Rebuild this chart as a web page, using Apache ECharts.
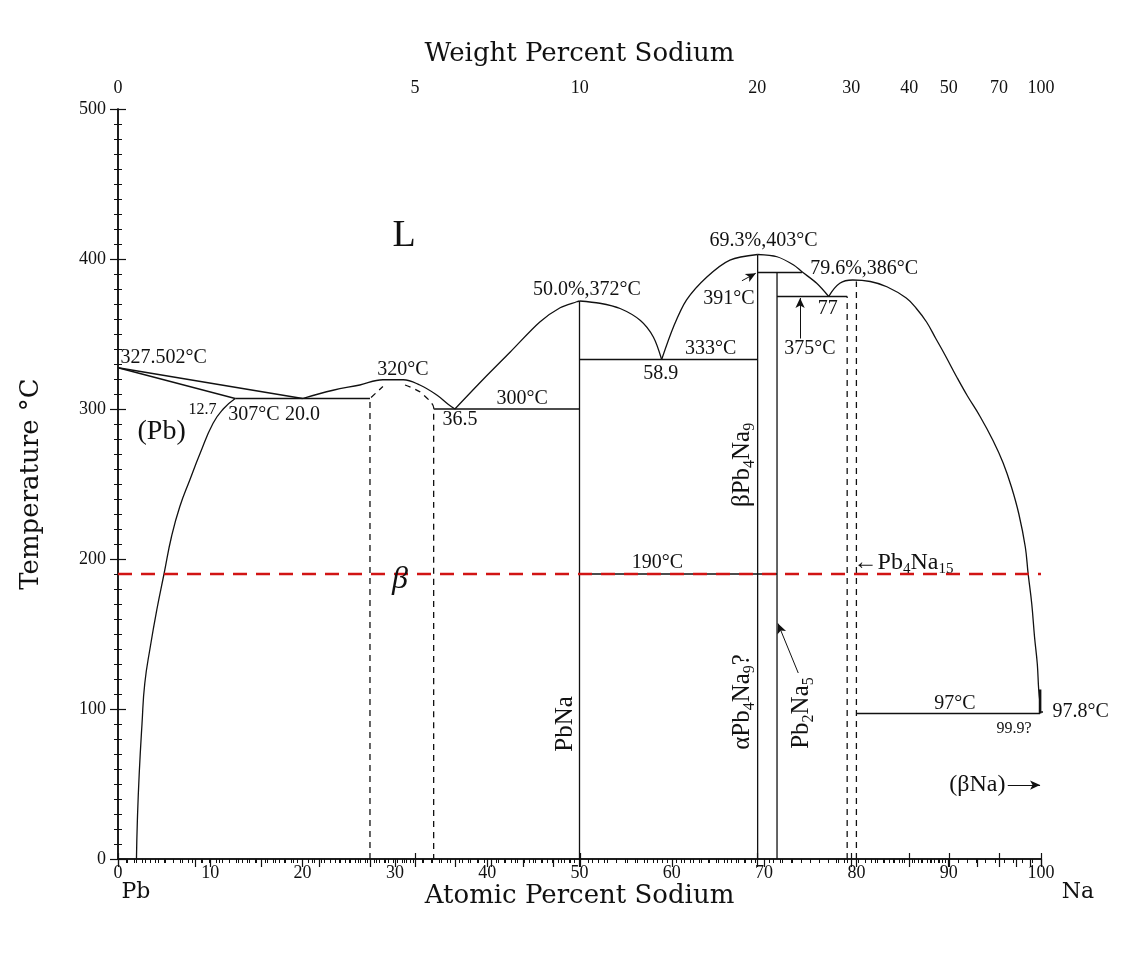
<!DOCTYPE html>
<html><head><meta charset="utf-8">
<script src="https://cdn.jsdelivr.net/npm/echarts@6/dist/echarts.min.js"></script>
<style>html,body{margin:0;padding:0;background:#fff}#c{width:1140px;height:975px}</style>
</head><body><div id="c"></div>
<script>
// ---------- axis ticks / labels ----------
const atomicRange = [0, 100];
const tempRange = [0, 500];
const weightLabels = [0, 5, 10, 20, 30, 40, 50, 70, 100];
const weightMediumTicks = [1, 2, 3, 4, 6, 7, 8, 9, 60, 80, 90];
const weightMinorSteps = [[0, 5, 0.1], [5, 10, 0.2], [10, 20, 0.5], [20, 50, 1], [50, 100, 10]];
const M_NA = 22.99, M_PB = 207.2;   // top axis scale: weight % -> atomic %

// ---------- phase boundaries (atomic % Na, °C) ----------
const pbLiquidus = [[0, 327.5], [20, 307]];
const pbSolidus = [[0, 327.5], [12.7, 307]];
const pbSolvus = [[2.0, 0], [2.1, 26], [2.3, 57], [2.6, 90], [2.9, 117], [3.5, 141.5], [4.2, 166], [5.0, 190.5], [5.8, 215], [6.7, 235], [7.8, 253], [8.9, 270.5], [10.3, 290.5], [11.4, 300], [12.7, 307]];
const eutectic307 = [[12.7, 307], [27.3, 307]];
const betaLiquidus = [[20, 307], [23.3, 312.5], [26.2, 316], [28.7, 319.5], [30.9, 319.5], [32.7, 316], [34.5, 309.5], [35.8, 303], [36.5, 300]];
const betaLeftDashed = [[27.3, 0], [27.3, 307], [28.7, 315]];
const betaRightDashed = [[31.1, 316], [32.7, 311.5], [34.2, 301], [34.2, 0]];
const eutectic300 = [[34.2, 300], [50, 300]];
const pbNaLiquidusL = [[36.5, 300], [39.6, 320], [42.5, 338], [45.7, 358], [47.9, 367.5], [49.7, 371.5], [50, 372]];
const pbNaLiquidusR = [[50, 372], [52.2, 370.5], [54.4, 367], [56.6, 359], [58.0, 348], [58.9, 333]];
const pbNaLine = [[50, 0], [50, 372]];
const eutectic333 = [[50, 333], [69.3, 333]];
const pb4Na9LiquidusL = [[58.9, 333], [60.2, 355], [61.6, 372.7], [63.8, 388], [66.3, 399.3], [69.3, 403]];
const pb4Na9LiquidusR = [[69.3, 403], [71.4, 401.5], [73.2, 396], [74.1, 391.5], [75.7, 383.8], [77, 375]];
const pb4Na9Line = [[69.3, 0], [69.3, 403]];
const peritectic391 = [[69.3, 391], [74.1, 391]];
const pb2Na5Line = [[71.4, 0], [71.4, 391]];
const eutectic375 = [[71.4, 375], [79.0, 375]];
const naLiquidus = [[77, 375], [78.2, 383.8], [79.6, 386], [81.5, 385], [83.3, 381.5], [85.4, 374], [86.5, 367], [87.6, 358], [88.6, 347], [89.6, 336], [90.9, 321], [92.0, 309], [93.4, 295], [94.8, 279], [95.9, 264], [96.8, 248], [97.6, 230], [98.3, 208], [98.6, 190.5], [99.0, 170], [99.3, 148], [99.6, 130], [99.75, 113], [99.9, 104]];
const pb4Na15DashedA = [[79.0, 0], [79.0, 375]];
const pb4Na15DashedB = [[80.0, 0], [80.0, 385]];
const eutectic97 = [[80, 97], [99.9, 97]];
const naSolidus = [[99.9, 97], [99.9, 113]];
const naMeltTick = [[100, 98], [100.8, 98]];
const line190 = [[50, 190], [71.4, 190]];
const redLine190 = [[0, 190], [100, 190]];

// ---------- arrows: [from, to] ----------
const arrows = [
  [[67.6, 385.5], [69.1, 390.5]],
  [[73.9, 347], [73.9, 374]],
  [[73.7, 124], [71.5, 157]],
  [[96.4, 49.3], [99.9, 49.3]],
];

// ---------- labels: [text, atomic %, °C] ----------
const valueLabels = [
  ['327.502°C', 4.96, 334], ['307°C', 14.73, 296], ['20.0', 19.99, 296], ['320°C', 30.88, 326],
  ['36.5', 37.05, 292.7], ['300°C', 43.8, 307.1], ['50.0%,372°C', 50.8, 379.3], ['58.9', 58.8, 323.8],
  ['333°C', 64.2, 340.4], ['69.3%,403°C', 69.94, 412.2], ['391°C', 66.2, 373.8], ['79.6%,386°C', 80.84, 393.8],
  ['77', 76.9, 367.1], ['375°C', 74.97, 340.4], ['190°C', 58.45, 197.3], ['97°C', 90.68, 103.8]
];
const smallLabels = [['12.7', 9.15, 299.8], ['99.9?', 97.07, 87.1]];
const phaseLabels = [['(Pb)', 4.73, 284.9]];
const phaseLabelsSmall = [['(βNa)', 93.1, 49.3], ['←Pb{s|4}Na{s|15}', 85.1, 197.3]];
const compoundLabels = [['PbNa', 48.43, 90], ['αPb{s|4}Na{s|9}?', 67.7, 104.7], ['βPb{s|4}Na{s|9}', 67.7, 262.7], ['Pb{s|2}Na{s|5}', 74.07, 97.3]];
const bigLabels = [['L', 30.99, 415.3]];
const betaLabel = [['β', 30.55, 186]];
const outsideLabels = [['97.8°C', 104.3, 98]];
const elementLabels = [['Pb', 1.95, -22.5], ['Na', 104.0, -22.5]];

// ---------- build ----------
const wtToAt = w => 100 * (w / M_NA) / (w / M_NA + (100 - w) / M_PB);
const weightLabelPos = weightLabels.map(wtToAt);
const weightMinorPos = [];
weightMinorSteps.forEach(([a, b, s]) => { for (let k = 0; a + k * s < b - 1e-9; k++) weightMinorPos.push(wtToAt(a + k * s)); });
weightMinorPos.push(wtToAt(100));
const weightMidPos = weightMediumTicks.map(wtToAt).concat(weightLabelPos);

const INK = '#111';
const SERIF = 'Liberation Serif';
const TITLE = 'DejaVu Serif';
const gridRect = { left: 118, top: 109, width: 923, height: 750 };

function curve(data, opt) {
  opt = opt || {};
  return {
    type: 'line', data, symbol: 'none', silent: true, animation: false, clip: opt.clip !== false,
    smooth: opt.smooth || false, z: opt.z || 3,
    lineStyle: { color: opt.color || INK, width: opt.width || 1.3, type: opt.dash || 'solid' }
  };
}
function labels(items, style) {
  return {
    type: 'scatter', symbolSize: 0, clip: false, silent: true, animation: false, z: 6,
    itemStyle: { color: INK, opacity: 1 },
    data: items.map(([t, x, y]) => ({ value: [x, y], label: { formatter: t } })),
    label: Object.assign({ show: true, position: 'inside', color: INK, opacity: 1, textBorderWidth: 0, textBorderColor: 'transparent', align: 'center', verticalAlign: 'middle' }, style)
  };
}
const dash = [6, 5];
const series = [
  curve(pbLiquidus), curve(pbSolidus), curve(pbSolvus, { smooth: 0.5 }), curve(eutectic307),
  curve(betaLiquidus, { smooth: 0.4 }), curve(betaLeftDashed, { dash }), curve(betaRightDashed, { dash, smooth: 0.2 }),
  curve(eutectic300), curve(pbNaLiquidusL, { smooth: 0.3 }), curve(pbNaLiquidusR, { smooth: 0.3 }), curve(pbNaLine),
  curve(eutectic333), curve(pb4Na9LiquidusL, { smooth: 0.3 }), curve(pb4Na9LiquidusR, { smooth: 0.3 }), curve(pb4Na9Line),
  curve(peritectic391), curve(pb2Na5Line), curve(eutectic375), curve(naLiquidus, { smooth: 0.4 }),
  curve(pb4Na15DashedA, { dash }), curve(pb4Na15DashedB, { dash }), curve(eutectic97), curve(naSolidus, { width: 2.6 }),
  curve(naMeltTick, { clip: false, width: 1.4 }), curve(line190),
  curve(redLine190, { color: '#d11414', width: 2.6, dash: [14, 9], z: 4 }),
  {
    type: 'line', data: [], silent: true, animation: false,
    markLine: {
      silent: true, animation: false, symbol: ['none', 'arrow'], symbolSize: [7, 10],
      label: { show: false }, lineStyle: { color: INK, width: 1, type: 'solid' },
      data: arrows.map(([a, b]) => [{ coord: a }, { coord: b }])
    }
  },
  labels(valueLabels, { fontFamily: SERIF, fontSize: 20 }),
  labels(smallLabels, { fontFamily: SERIF, fontSize: 16 }),
  labels(phaseLabels, { fontFamily: SERIF, fontSize: 28 }),
  labels(phaseLabelsSmall, { fontFamily: SERIF, fontSize: 24, lineHeight: 28, rich: { s: { fontFamily: SERIF, fontSize: 15, lineHeight: 15, verticalAlign: 'bottom', color: INK } } }),
  labels(compoundLabels, { fontFamily: SERIF, fontSize: 25, lineHeight: 30, rotate: 90, rich: { s: { fontFamily: SERIF, fontSize: 16, lineHeight: 16, verticalAlign: 'bottom', color: INK } } }),
  labels(bigLabels, { fontFamily: SERIF, fontSize: 38 }),
  labels(betaLabel, { fontFamily: SERIF, fontSize: 32, fontStyle: 'italic' }),
  labels(outsideLabels, { fontFamily: SERIF, fontSize: 20 }),
  labels(elementLabels, { fontFamily: TITLE, fontSize: 22 }),
];

const axisLine = { show: true, lineStyle: { color: INK, width: 1.5 } };
const tickStyle = { color: INK, width: 1.2 };
const option = {
  backgroundColor: '#fff',
  animation: false,
  grid: [Object.assign({}, gridRect), Object.assign({}, gridRect), Object.assign({}, gridRect)],
  xAxis: [
    {
      gridIndex: 0, type: 'value', position: 'bottom', min: atomicRange[0], max: atomicRange[1], interval: 10,
      axisLine, splitLine: { show: false },
      axisTick: { inside: false, length: 8, lineStyle: tickStyle },
      minorTick: { show: true, splitNumber: 10, length: 4, lineStyle: { color: INK, width: 1 } },
      axisLabel: { fontFamily: SERIF, fontSize: 18, color: INK, margin: 5 },
      name: 'Atomic Percent Sodium', nameLocation: 'middle', nameGap: 24, nameMoveOverlap: false,
      nameTextStyle: { fontFamily: TITLE, fontSize: 26, color: INK }
    },
    {
      gridIndex: 0, type: 'value', position: 'top', min: atomicRange[0], max: atomicRange[1],
      axisLine, splitLine: { show: false },
      axisTick: { show: true, inside: true, length: 4, customValues: weightMinorPos, lineStyle: { color: INK, width: 1 } },
      axisLabel: {
        show: true, customValues: weightLabelPos, fontFamily: SERIF, fontSize: 18, color: INK, margin: 12,
        formatter: v => { const i = weightLabelPos.findIndex(p => Math.abs(p - v) < 1e-6); return i >= 0 ? String(weightLabels[i]) : ''; }
      },
      name: 'Weight Percent Sodium', nameLocation: 'middle', nameGap: 42, nameMoveOverlap: false,
      nameTextStyle: { fontFamily: TITLE, fontSize: 26, color: INK }
    },
    {
      gridIndex: 1, type: 'value', position: 'top', min: atomicRange[0], max: atomicRange[1],
      axisLine: { show: false }, splitLine: { show: false }, axisLabel: { show: false },
      axisTick: { show: true, inside: true, length: 8, customValues: weightMidPos, lineStyle: tickStyle }
    },
    {
      gridIndex: 2, type: 'value', position: 'top', min: atomicRange[0], max: atomicRange[1],
      axisLine: { show: false }, splitLine: { show: false }, axisLabel: { show: false },
      axisTick: { show: true, inside: false, length: 6, customValues: weightLabelPos, lineStyle: tickStyle }
    }
  ],
  yAxis: [
    {
      gridIndex: 0, type: 'value', position: 'left', min: tempRange[0], max: tempRange[1], interval: 100,
      axisLine, splitLine: { show: false },
      axisTick: { inside: false, length: 8, lineStyle: tickStyle },
      minorTick: { show: true, splitNumber: 10, length: 4, lineStyle: { color: INK, width: 1 } },
      axisLabel: { fontFamily: SERIF, fontSize: 18, color: INK, margin: 12 },
      name: 'Temperature °C', nameLocation: 'middle', nameGap: 74, nameMoveOverlap: false,
      nameTextStyle: { fontFamily: TITLE, fontSize: 26, color: INK }
    },
    {
      gridIndex: 0, type: 'value', position: 'right', min: tempRange[0], max: tempRange[1], interval: 100,
      axisLine, splitLine: { show: false }, axisLabel: { show: false },
      axisTick: { inside: false, length: 8, lineStyle: tickStyle },
      minorTick: { show: true, splitNumber: 10, length: 4, lineStyle: { color: INK, width: 1 } }
    },
    { gridIndex: 1, type: 'value', min: tempRange[0], max: tempRange[1], show: false },
    { gridIndex: 2, type: 'value', min: tempRange[0], max: tempRange[1], show: false }
  ],
  series
};
const chart = echarts.init(document.getElementById('c'), null, { renderer: 'canvas' });
chart.setOption(option);
</script></body></html>
